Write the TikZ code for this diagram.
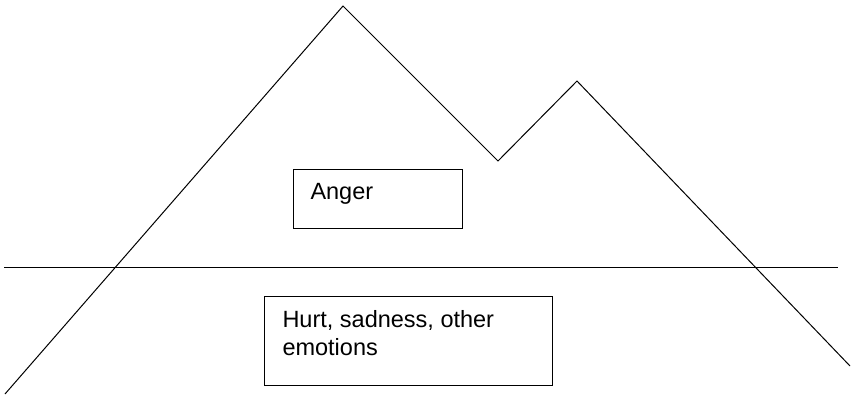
\documentclass[tikz,border=0pt]{standalone}
\usepackage{fontspec}
\setmainfont{Liberation Sans}
\usetikzlibrary{calc}
\begin{document}
\begin{tikzpicture}[x=1pt,y=-1pt,line width=1pt,
  box/.style={draw,line width=1pt,rectangle,inner sep=0pt,anchor=north west},
  txt/.style={inner sep=0pt,anchor=base west,align=left,font=\fontsize{23.5}{28}\selectfont}]
\useasboundingbox (0,0) rectangle (852,396);
% mountain outline
\coordinate (m0) at (5,394);
\coordinate (m1) at (343,6);
\coordinate (m2) at (498,161);
\coordinate (m3) at (577,81);
\coordinate (m4) at (850,366);
\draw (m0) -- (m1) -- (m2) -- (m3) -- (m4);
% water line
\coordinate (h0) at (4,267);
\coordinate (h1) at (838,267);
\draw (h0) -- (h1);
% boxes
\node[box,minimum width=169pt,minimum height=59pt] (anger) at (293,169) {};
\node[txt] (angertxt) at ($(anger.north west)+(17,30)$) {Anger};
\node[box,minimum width=288pt,minimum height=89pt] (hurt) at (264,296) {};
\node[txt] (hurttxt) at ($(hurt.north west)+(18,59)$) {Hurt, sadness, other\\emotions};
\end{tikzpicture}
\end{document}
